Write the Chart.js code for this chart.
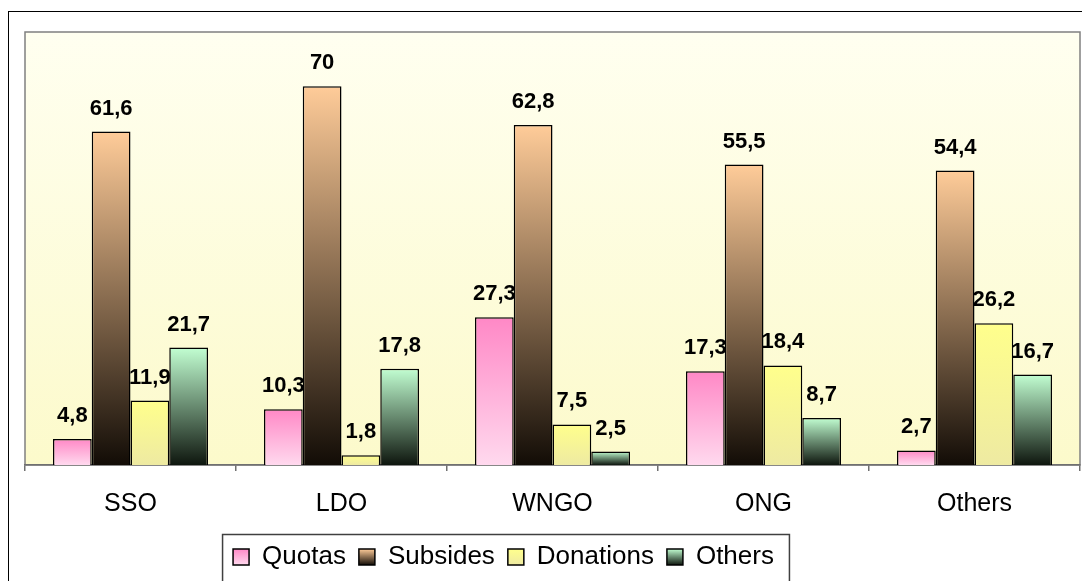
<!DOCTYPE html>
<html>
<head>
<meta charset="utf-8">
<script src="https://cdn.jsdelivr.net/npm/chart.js@4/dist/chart.umd.min.js"></script>
<style>
  html, body { margin: 0; padding: 0; background: #fff; }
  #wrap { width: 1082px; height: 581px; position: relative; }
</style>
</head>
<body>
<div id="wrap"><canvas id="fundChart" width="1082" height="581"></canvas></div>
<script>
const categories = ['SSO', 'LDO', 'WNGO', 'ONG', 'Others'];
const quotas = [4.8, 10.3, 27.3, 17.3, 2.7];
const subsides = [61.6, 70, 62.8, 55.5, 54.4];
const donations = [11.9, 1.8, 7.5, 18.4, 26.2];
const others = [21.7, 17.8, 2.5, 8.7, 16.7];
const seriesNames = ['Quotas', 'Subsides', 'Donations', 'Others'];

// top colour -> bottom colour for each series
const fills = [
    ['#ff88c6', '#ffd9ee'],
    ['#ffcc99', '#120c06'],
    ['#ffff8c', '#eeeaa2'],
    ['#c2ffd2', '#0e160e']
];

const FONT = "'Liberation Sans', Arial, sans-serif";

function barFill(i) {
    return function(c) {
        const chart = c.chart;
        if (c.type !== 'data' || !chart.chartArea) return fills[i][0];
        const y = chart.scales.y;
        const top = y.getPixelForValue(c.raw);
        const bottom = y.getPixelForValue(0);
        const g = chart.ctx.createLinearGradient(0, top, 0, bottom);
        g.addColorStop(0, fills[i][0]);
        g.addColorStop(1, fills[i][1]);
        return g;
    };
}

const framePlugin = {
    id: 'frame',
    afterLayout(chart) {
        // legend sits left of the chart centre in the original
        chart.legend.left -= 49;
        chart.legend.right -= 49;
    },
    beforeDraw(chart) {
        const c = chart.ctx;
        const a = chart.chartArea;
        c.save();
        c.fillStyle = '#fff';
        c.fillRect(0, 0, chart.width, chart.height);
        c.strokeStyle = '#000';
        c.lineWidth = 1;
        c.strokeRect(8.5, 11.5, chart.width + 20, chart.height + 20);
        const g = c.createLinearGradient(0, a.top, 0, a.bottom);
        g.addColorStop(0, '#fffff0');
        g.addColorStop(1, '#fcfacb');
        c.fillStyle = g;
        c.fillRect(a.left, a.top, a.right - a.left, a.bottom - a.top);
        c.strokeStyle = '#808080';
        c.lineWidth = 1.5;
        c.strokeRect(a.left, a.top, a.right - a.left, a.bottom - a.top);
        c.restore();
    },
    afterDatasetsDraw(chart) {
        const c = chart.ctx;
        c.save();
        c.font = 'bold 22px ' + FONT;
        c.fillStyle = '#000';
        c.textAlign = 'center';
        c.textBaseline = 'middle';
        chart.data.datasets.forEach((ds, i) => {
            chart.getDatasetMeta(i).data.forEach((bar, j) => {
                c.fillText(String(ds.data[j]).replace('.', ','), bar.x, bar.y - 23);
            });
        });
        c.restore();
    },
    afterDraw(chart) {
        const L = chart.legend;
        const c = chart.ctx;
        const pad = L.options.labels.padding;
        const fs = 26, bw = 16;
        c.save();
        c.font = fs + 'px ' + FONT;
        let x = (L.left + pad + L.right - L.lineWidths[0]) / 2;
        const y = L.top + pad;
        const x0 = x;
        L.legendItems.forEach((it, i) => {
            const w = bw + fs / 2 + c.measureText(it.text).width;
            const by = y + (fs - bw) / 2;
            const g = c.createLinearGradient(0, by, 0, by + bw);
            g.addColorStop(0, fills[i][0]);
            g.addColorStop(1, fills[i][1]);
            c.fillStyle = g;
            c.fillRect(x, by, bw, bw);
            c.strokeStyle = '#000';
            c.lineWidth = 1.5;
            c.strokeRect(x, by, bw, bw);
            x += w + pad;
        });
        c.strokeStyle = '#404040';
        c.lineWidth = 1.5;
        c.strokeRect(x0 - 10.5, y - 9.5, x - pad - x0 + 26, 80);
        c.restore();
    }
};

const datasets = [quotas, subsides, donations, others].map((vals, i) => ({
    label: seriesNames[i],
    data: vals,
    backgroundColor: barFill(i),
    borderColor: '#000',
    borderWidth: 1.5,
    barPercentage: 1,
    categoryPercentage: 0.735
}));

new Chart(document.getElementById('fundChart').getContext('2d'), {
    type: 'bar',
    data: { labels: categories, datasets: datasets },
    options: {
        responsive: false,
        animation: false,
        layout: { padding: { left: 25, right: 2, top: 32, bottom: 1 } },
        scales: {
            y: { display: false, min: 0, max: 80 },
            x: {
                afterFit: function(scale) { scale.height = 66; },
                grid: {
                    drawOnChartArea: false,
                    tickLength: 6,
                    color: '#707070',
                    lineWidth: 1.5
                },
                border: { color: '#707070', width: 1.5 },
                ticks: {
                    padding: 18,
                    color: '#000',
                    font: { family: FONT, size: 25 }
                }
            }
        },
        plugins: {
            tooltip: { enabled: false },
            legend: {
                position: 'bottom',
                labels: {
                    boxWidth: 16,
                    boxHeight: 16,
                    padding: 13,
                    color: '#000',
                    font: { family: FONT, size: 26 },
                    generateLabels: function(chart) {
                        return chart.data.datasets.map((ds, i) => ({
                            text: ds.label,
                            fillStyle: 'rgba(0,0,0,0)',
                            strokeStyle: 'rgba(0,0,0,0)',
                            lineWidth: 0,
                            datasetIndex: i
                        }));
                    }
                }
            }
        }
    },
    plugins: [framePlugin]
});
</script>
</body>
</html>
